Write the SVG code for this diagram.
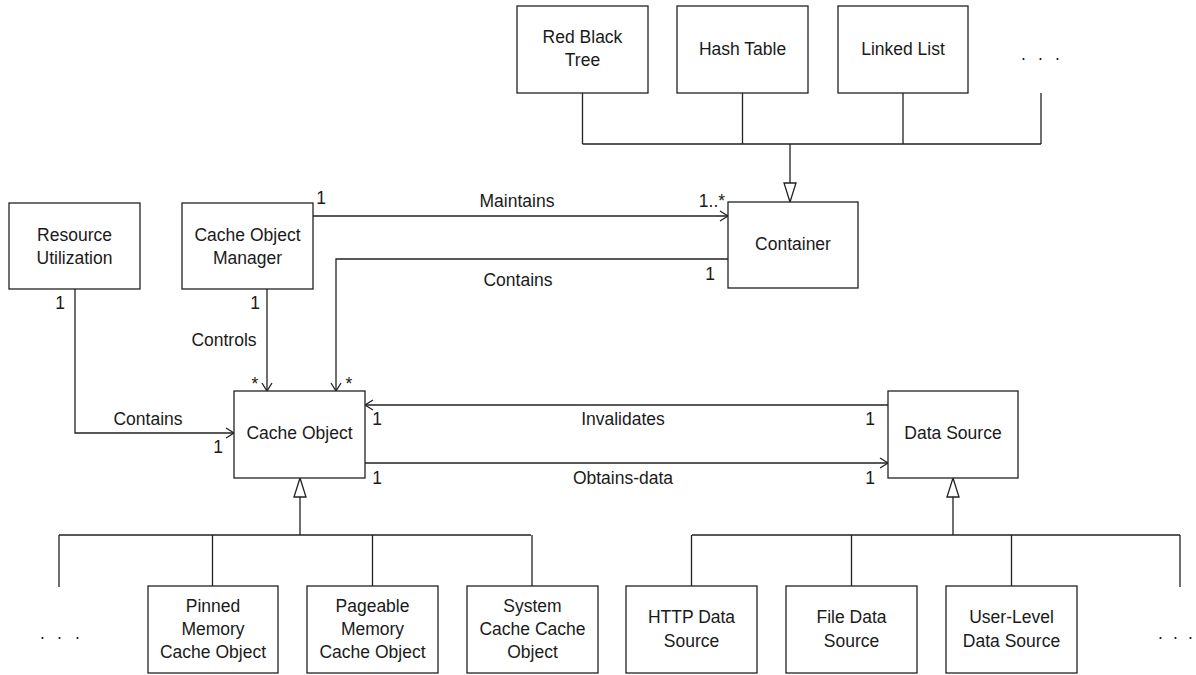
<svg xmlns="http://www.w3.org/2000/svg" width="1196" height="675" viewBox="0 0 1196 675">
<style>
.box{fill:#fff;stroke:#222;stroke-width:1.3}
.ln{fill:none;stroke:#222;stroke-width:1.3}
.tri{fill:#fff;stroke:#222;stroke-width:1.3}
text{font-family:"Liberation Sans",Arial,sans-serif;font-size:17.5px;fill:#1a1a1a}
.c{text-anchor:middle}
</style>
<defs>
<marker id="open" viewBox="-10 -7 12 14" refX="0" refY="0" markerWidth="12" markerHeight="14" markerUnits="userSpaceOnUse" orient="auto">
<path d="M-8,-5 L0,0 L-8,5" fill="none" stroke="#222" stroke-width="1.3"/>
</marker>
</defs>
<rect width="1196" height="675" fill="#fff"/>

<g id="connectors">
<path class="ln" d="M582.5,93 V144 M742.5,93 V144 M903,93 V144 M1041,93 V144 M582.5,144 H1041 M790,144 V183"/>
<path class="tri" d="M790,202 L784,183 L796,183 Z"/>
<path class="ln" d="M313,216 H728" marker-end="url(#open)"/>
<path class="ln" d="M728,259 H336 V391" marker-end="url(#open)"/>
<path class="ln" d="M267,289 V391" marker-end="url(#open)"/>
<path class="ln" d="M75,289 V433 H234" marker-end="url(#open)"/>
<path class="ln" d="M888,405 H365" marker-end="url(#open)"/>
<path class="ln" d="M365,463 H888" marker-end="url(#open)"/>
<path class="ln" d="M300,497 V535 M59,535 H531 M59,535 V587 M212.5,535 V586 M372.5,535 V586 M532,535 V586"/>
<path class="tri" d="M300,478 L294,497 L306,497 Z"/>
<path class="ln" d="M953,497 V535 M692,535 H1180 M691.5,535 V586 M851.5,535 V586 M1011.5,535 V586 M1180,535 V587"/>
<path class="tri" d="M953,478 L947,497 L959,497 Z"/>
<text x="321" y="204" class="c">1</text>
<text x="517" y="207" class="c">Maintains</text>
<text x="712" y="207" class="c">1..*</text>
<text x="518" y="286" class="c">Contains</text>
<text x="710" y="280" class="c">1</text>
<text x="60" y="309" class="c">1</text>
<text x="255" y="309" class="c">1</text>
<text x="224" y="346" class="c">Controls</text>
<text x="255" y="390" class="c">*</text>
<text x="349" y="390" class="c">*</text>
<text x="148" y="425" class="c">Contains</text>
<text x="218" y="453" class="c">1</text>
<text x="377" y="425" class="c">1</text>
<text x="623" y="425" class="c">Invalidates</text>
<text x="870" y="425" class="c">1</text>
<text x="377" y="484" class="c">1</text>
<text x="623" y="484" class="c">Obtains-data</text>
<text x="870" y="484" class="c">1</text>
</g>

<g id="red-black-tree"><rect class="box" x="517" y="6" width="131" height="87"/><text x="582.5" y="43" class="c">Red Black</text><text x="582.5" y="66" class="c">Tree</text></g>
<g id="hash-table"><rect class="box" x="677" y="6" width="131" height="87"/><text x="742.5" y="55" class="c">Hash Table</text></g>
<g id="linked-list"><rect class="box" x="838" y="6" width="130" height="87"/><text x="903" y="55" class="c">Linked List</text></g>
<g id="top-more"><text x="1021 1030 1038 1047 1055" y="60">. . .</text></g>

<g id="resource-utilization"><rect class="box" x="9" y="203" width="131" height="86"/><text x="74.5" y="241" class="c">Resource</text><text x="74.5" y="264" class="c">Utilization</text></g>
<g id="cache-object-manager"><rect class="box" x="182" y="203" width="131" height="86"/><text x="247.5" y="241" class="c">Cache Object</text><text x="247.5" y="264" class="c">Manager</text></g>
<g id="container"><rect class="box" x="728" y="202" width="130" height="86"/><text x="793" y="250" class="c">Container</text></g>
<g id="cache-object"><rect class="box" x="234" y="391" width="131" height="87"/><text x="299.5" y="439" class="c">Cache Object</text></g>
<g id="data-source"><rect class="box" x="888" y="391" width="130" height="87"/><text x="953" y="439" class="c">Data Source</text></g>

<g id="pinned"><rect class="box" x="148" y="586" width="130" height="87"/><text x="213" y="612" class="c">Pinned</text><text x="213" y="635" class="c">Memory</text><text x="213" y="658" class="c">Cache Object</text></g>
<g id="pageable"><rect class="box" x="307" y="586" width="131" height="87"/><text x="372.5" y="612" class="c">Pageable</text><text x="372.5" y="635" class="c">Memory</text><text x="372.5" y="658" class="c">Cache Object</text></g>
<g id="system"><rect class="box" x="467" y="586" width="131" height="87"/><text x="532.5" y="612" class="c">System</text><text x="532.5" y="635" class="c">Cache Cache</text><text x="532.5" y="658" class="c">Object</text></g>
<g id="left-more"><text x="40 48 57 66 75" y="639">. . .</text></g>

<g id="http-data-source"><rect class="box" x="626" y="586" width="131" height="87"/><text x="691.5" y="623" class="c">HTTP Data</text><text x="691.5" y="647" class="c">Source</text></g>
<g id="file-data-source"><rect class="box" x="786" y="586" width="131" height="87"/><text x="851.5" y="623" class="c">File Data</text><text x="851.5" y="647" class="c">Source</text></g>
<g id="user-level-data-source"><rect class="box" x="946" y="586" width="131" height="87"/><text x="1011.5" y="623" class="c">User-Level</text><text x="1011.5" y="647" class="c">Data Source</text></g>
<g id="right-more"><text x="1158 1166 1173 1181 1188" y="639">. . .</text></g>
</svg>
